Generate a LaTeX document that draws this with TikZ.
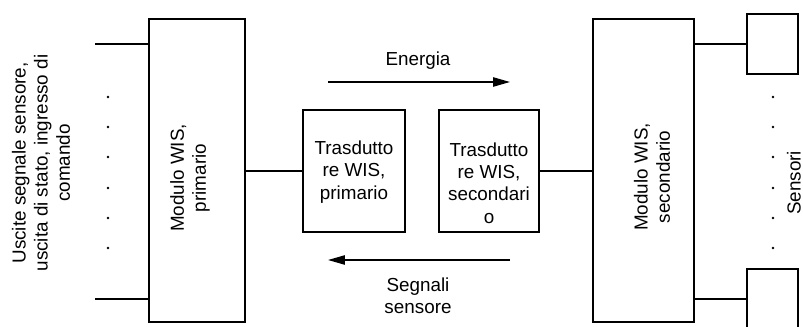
\documentclass[tikz,border=0pt]{standalone}
\usepackage{xcolor}
\usepackage{fontspec}
\setmainfont{Liberation Sans}
\usetikzlibrary{arrows.meta}
\tikzset{
  wisbox/.style={draw, rectangle, line width=1.1pt, fill=white, inner sep=0pt},
  wistext/.style={align=center, inner sep=0pt, font=\fontsize{13.4pt}{15.8pt}\selectfont},
  wisline/.style={line width=1.1pt},
  wisarrow/.style={line width=1.1pt, -{Triangle[length=0.42cm, width=0.23cm]}},
}

\begin{document}
\begin{tikzpicture}[x=0.025cm, y=-0.025cm]%
\clip (0,0) rectangle (803,327);%
\node[wisbox, minimum width=2.4cm, minimum height=7.575cm] (prim) at (197,170.5) {};%
\node[wisbox, minimum width=2.525cm, minimum height=7.575cm] (sec) at (643.5,170.5) {};%
\node[wisbox, minimum width=2.55cm, minimum height=3.05cm] (trasp) at (354,171) {};%
\node[wisbox, minimum width=2.5cm, minimum height=3.05cm] (trass) at (489,171) {};%
\node[wisbox, minimum width=1.275cm, minimum height=1.5cm] (sensa) at (772.5,44) {};%
\node[wisbox, minimum width=1.275cm, minimum height=1.5cm] (sensb) at (772.5,299) {};%
\coordinate (ina) at (95,44);%
\coordinate (inb) at (95,299);%
\coordinate (ena) at (328,82);%
\coordinate (enb) at (510,82);%
\coordinate (sga) at (510,260);%
\coordinate (sgb) at (328,260);%
\draw[wisline] (ina) -- (ina -| prim.west);%
\draw[wisline] (inb) -- (inb -| prim.west);%
\draw[wisline] (prim.east |- trasp.west) -- (trasp.west);%
\draw[wisline] (trass.east) -- (sec.west |- trass.east);%
\draw[wisline] (sec.east |- sensa.west) -- (sensa.west);%
\draw[wisline] (sec.east |- sensb.west) -- (sensb.west);%
\draw[wisarrow] (ena) -- (enb);%
\draw[wisarrow] (sga) -- (sgb);%
\foreach \y in {97,127,157,188,218,248} {%
  \fill (108,\y) circle (0.035cm);%
  \fill (773,\y) circle (0.035cm);%
}%
\node[wistext, rotate=90] (uscite) at (41,163) {Uscite segnale sensore,\\uscita di stato, ingresso di\\comando};%
\node[wistext, rotate=90] (primlab) at (190,178) {Modulo WIS,\\primario};%
\node[wistext, rotate=90] (seclab) at (652,177) {Modulo WIS,\\secondario};%
\node[wistext] (trasplab) at (354,172) {Trasdutto\\re WIS,\\primario};%
\node[wistext] (trasslab) at (489,183) {Trasdutto\\re WIS,\\secondari\\o};%
\node[wistext] (energia) at (418,61) {Energia};%
\node[wistext] (segnali) at (418,296) {Segnali\\sensore};%
\node[wistext, rotate=90] (sensori) at (794,183) {Sensori};%
\end{tikzpicture}
\end{document}
